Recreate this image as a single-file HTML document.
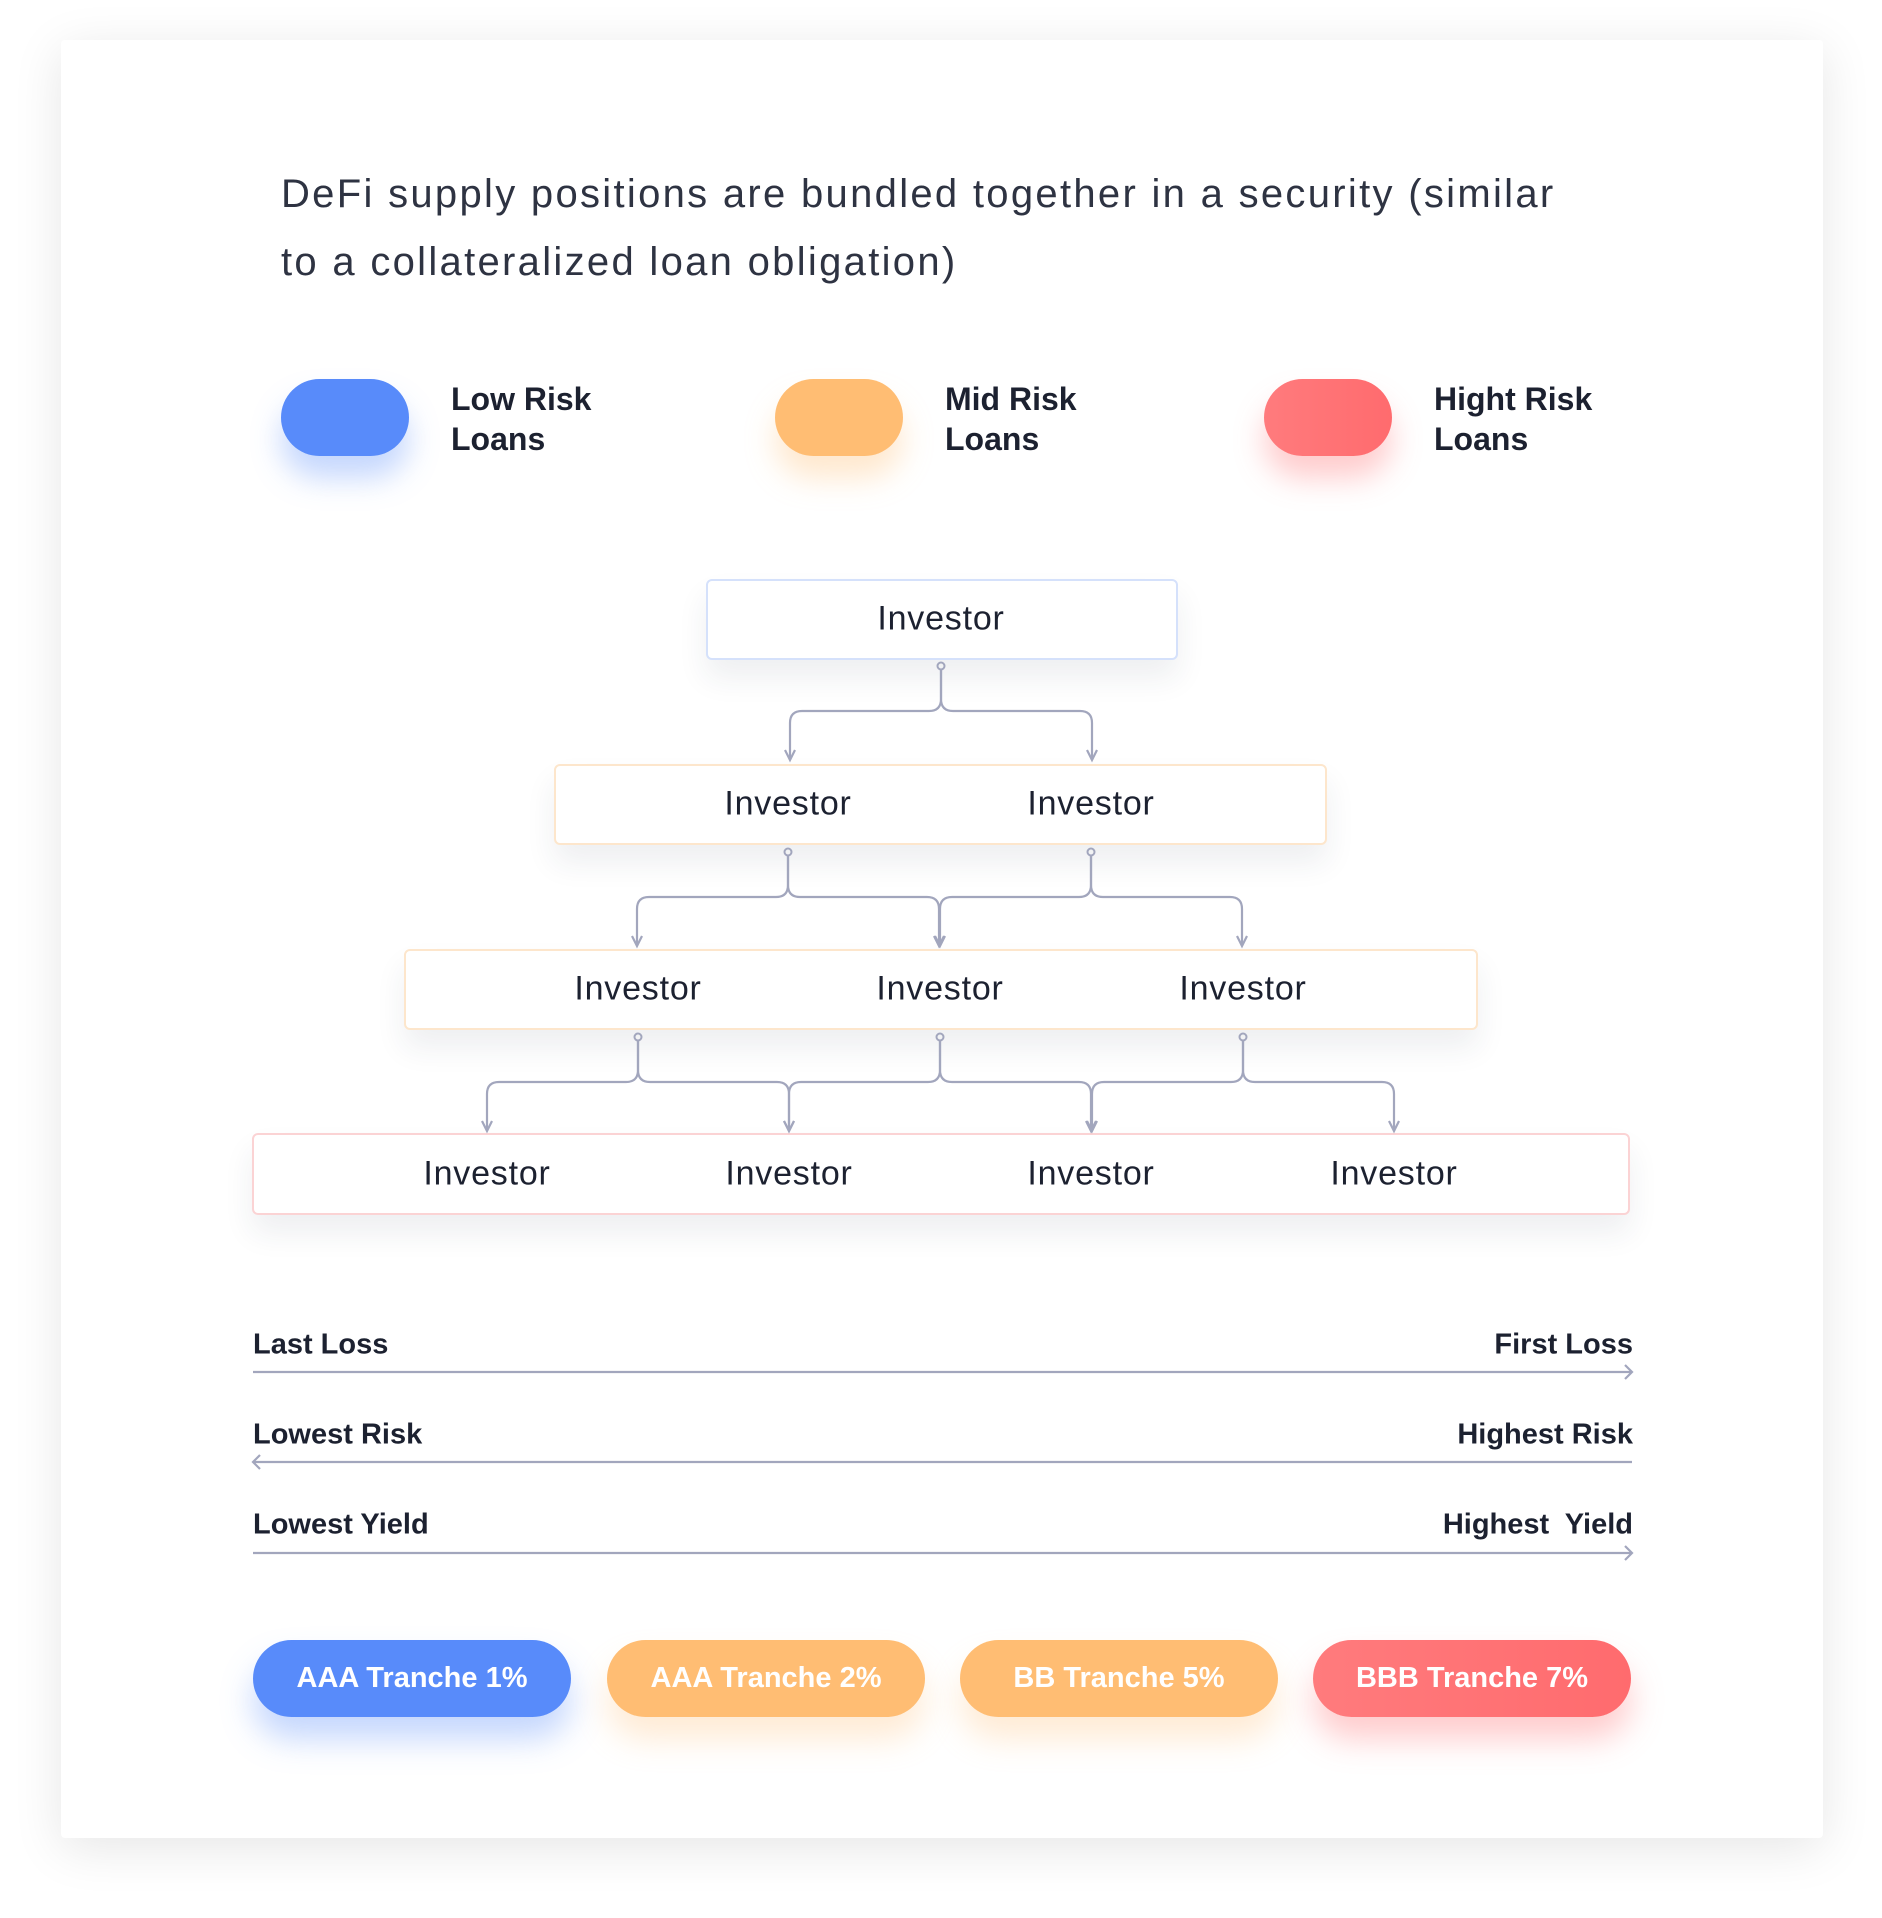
<!DOCTYPE html>
<html><head><meta charset="utf-8"><style>
html,body{margin:0;padding:0;background:#fff;}
body{width:1882px;height:1918px;position:relative;overflow:hidden;font-family:"Liberation Sans",sans-serif;color:#1c2130;}
.card{position:absolute;left:61px;top:40px;width:1762px;height:1798px;background:#fff;box-shadow:0 10px 50px rgba(0,0,0,0.10);border-radius:4px;}
.abs{position:absolute;}
.title{left:281px;font-size:40px;color:#2e3342;white-space:nowrap;line-height:1;letter-spacing:2.3px;font-weight:300;}
.lp{width:128px;height:77px;border-radius:39px;}
.ll{font-size:32px;font-weight:bold;line-height:40px;color:#1c2130;}
.box{background:#fff;border:2px solid;border-radius:6px;box-shadow:0 18px 30px rgba(40,50,80,0.08);box-sizing:border-box;}
.inv{font-size:34px;letter-spacing:0.8px;transform:translate(-50%,-50%);white-space:nowrap;}
.ax{font-size:29px;font-weight:bold;white-space:nowrap;transform:translateY(-50%);}
.tr{height:77px;width:318px;border-radius:39px;color:#fff;font-weight:bold;font-size:29px;display:flex;align-items:center;justify-content:center;}
</style></head><body>
<div class="card"></div>
<div class="abs title" style="top:174px">DeFi supply positions are bundled together in a security (similar</div>
<div class="abs title" style="top:242px">to a collateralized loan obligation)</div>

<div class="abs lp" style="left:281px;top:379px;background:#588bfa;box-shadow:0 22px 30px rgba(88,139,250,0.35)"></div>
<div class="abs ll" style="left:451px;top:379px">Low Risk<br>Loans</div>
<div class="abs lp" style="left:775px;top:379px;background:#ffbd73;box-shadow:0 22px 30px rgba(255,189,115,0.35)"></div>
<div class="abs ll" style="left:945px;top:379px">Mid Risk<br>Loans</div>
<div class="abs lp" style="left:1264px;top:379px;background:linear-gradient(90deg,#ff7b7d,#ff6b6e);box-shadow:0 22px 30px rgba(255,110,112,0.35)"></div>
<div class="abs ll" style="left:1434px;top:379px">Hight Risk<br>Loans</div>

<div class="abs box" style="left:706px;top:579px;width:472px;height:81px;border-color:#d5e1fb"></div>
<div class="abs box" style="left:554px;top:764px;width:773px;height:81px;border-color:#fde6cc"></div>
<div class="abs box" style="left:404px;top:949px;width:1074px;height:81px;border-color:#fde6cc"></div>
<div class="abs box" style="left:252px;top:1133px;width:1378px;height:82px;border-color:#fbd3d4"></div>

<div class="abs inv" style="left:941px;top:619px">Investor</div>
<div class="abs inv" style="left:788px;top:804px">Investor</div>
<div class="abs inv" style="left:1091px;top:804px">Investor</div>
<div class="abs inv" style="left:638px;top:989px">Investor</div>
<div class="abs inv" style="left:940px;top:989px">Investor</div>
<div class="abs inv" style="left:1243px;top:989px">Investor</div>
<div class="abs inv" style="left:487px;top:1174px">Investor</div>
<div class="abs inv" style="left:789px;top:1174px">Investor</div>
<div class="abs inv" style="left:1091px;top:1174px">Investor</div>
<div class="abs inv" style="left:1394px;top:1174px">Investor</div>

<svg class="abs" style="left:0;top:0" width="1882" height="1918" id="sv" fill="none" stroke="#a2a6bd" stroke-width="2.2"></svg>

<div class="abs ax" style="left:253px;top:1345px">Last Loss</div>
<div class="abs ax" style="right:249px;top:1345px">First Loss</div>
<div class="abs ax" style="left:253px;top:1435px">Lowest Risk</div>
<div class="abs ax" style="right:249px;top:1435px">Highest Risk</div>
<div class="abs ax" style="left:253px;top:1525px">Lowest Yield</div>
<div class="abs ax" style="right:249px;top:1525px">Highest&nbsp; Yield</div>

<div class="abs tr" style="left:253px;top:1640px;background:#588bfa;box-shadow:0 22px 32px rgba(88,139,250,0.35)">AAA Tranche 1%</div>
<div class="abs tr" style="left:607px;top:1640px;background:#ffbd73;box-shadow:0 22px 32px rgba(255,189,115,0.3)">AAA Tranche 2%</div>
<div class="abs tr" style="left:960px;top:1640px;background:#ffbd73;box-shadow:0 22px 32px rgba(255,189,115,0.3)">BB Tranche 5%</div>
<div class="abs tr" style="left:1313px;top:1640px;background:linear-gradient(90deg,#ff7b7d,#ff6b6e);box-shadow:0 22px 32px rgba(255,110,112,0.35)">BBB Tranche 7%</div>

<script>
var s='';var r=12;
function conn(px,y0,yh,y1){
  s+='<circle cx="'+px+'" cy="'+y0+'" r="3.5" stroke-width="2"/>';
  [px-151,px+151].forEach(function(cx){
    var d=cx<px?-1:1;
    s+='<path d="M'+px+','+(y0+3.5)+' V'+(yh-r)+' Q'+px+','+yh+' '+(px+d*r)+','+yh+' H'+(cx-d*r)+' Q'+cx+','+yh+' '+cx+','+(yh+r)+' V'+y1+'"/>';
    s+='<path d="M'+(cx-5)+','+(y1-10)+' L'+cx+','+y1+' L'+(cx+5)+','+(y1-10)+'"/>';
  });
}
conn(941,666,711,760);
conn(788,852,897,946);conn(1091,852,897,946);
conn(638,1037,1082,1131);conn(940,1037,1082,1131);conn(1243,1037,1082,1131);
s+='<path d="M253,1372 H1632 M1625,1365 L1632,1372 L1625,1379"/>';
s+='<path d="M253,1462 H1632 M260,1455 L253,1462 L260,1469"/>';
s+='<path d="M253,1553 H1632 M1625,1546 L1632,1553 L1625,1560"/>';
document.getElementById('sv').innerHTML=s;
</script>
</body></html>
